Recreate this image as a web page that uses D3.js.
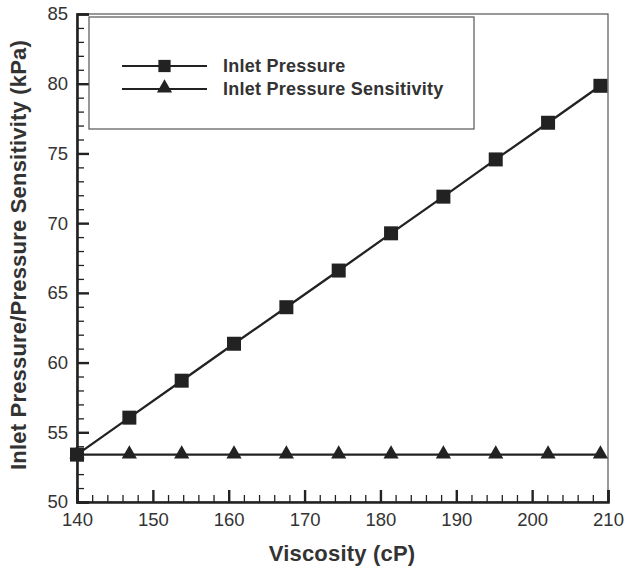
<!DOCTYPE html>
<html><head><meta charset="utf-8">
<script src="https://cdn.jsdelivr.net/npm/d3@7/dist/d3.min.js"></script>
<style>body{margin:0;background:#fff;} svg{display:block;font-family:"Liberation Sans",Arial,sans-serif;}</style>
</head><body>
<svg id="c" width="625" height="570"></svg>
<script>
const viscosity = [140, 146.9, 153.8, 160.7, 167.6, 174.5, 181.4, 188.3, 195.2, 202.1, 209];
const inletPressure = [53.4, 56.05, 58.7, 61.35, 63.97, 66.6, 69.27, 71.9, 74.57, 77.2, 79.85];
const sensitivity = [53.4, 53.4, 53.4, 53.4, 53.4, 53.4, 53.4, 53.4, 53.4, 53.4, 53.4];
const xTicks = [140, 150, 160, 170, 180, 190, 200, 210];
const yTicks = [50, 55, 60, 65, 70, 75, 80, 85];
const seriesNames = ["Inlet Pressure", "Inlet Pressure Sensitivity"];

const L = 77, R = 608, T = 14, B = 502;
const svg = d3.select("#c");
const x = d3.scaleLinear().domain([140, 210]).range([L, R]);
const y = d3.scaleLinear().domain([50, 85]).range([B, T]);
const dark = "#222";
const FF = "Liberation Sans, Arial, sans-serif";

// frame top/right
svg.append("rect").attr("x", L).attr("y", T).attr("width", R - L).attr("height", B - T)
  .attr("fill", "none").attr("stroke", "#555").attr("stroke-width", 1.2);

// minor ticks
const xMinor = d3.range(140, 210.01, 2).filter(v => v % 10 !== 0);
const yMinor = d3.range(50, 85.01, 1).filter(v => v % 5 !== 0);
const gx = svg.append("g").attr("transform", `translate(0,${B})`);
gx.call(d3.axisBottom(x).tickValues(xMinor).tickSize(-7).tickFormat(""));
gx.call(g => g.selectAll("line").attr("stroke", dark).attr("stroke-width", 1.3));
gx.select(".domain").remove();
const gx2 = svg.append("g").attr("transform", `translate(0,${B})`);
gx2.call(d3.axisBottom(x).tickValues(xTicks).tickSize(-12).tickPadding(11).tickFormat(d3.format("d")));
gx2.select(".domain").attr("stroke", dark).attr("stroke-width", 2.6);
gx2.selectAll("line").attr("stroke", dark).attr("stroke-width", 2.4);
gx2.selectAll("text").attr("font-size", 18.5).attr("fill", "#333").attr("font-family", FF);

const gy = svg.append("g").attr("transform", `translate(${L},0)`);
gy.call(d3.axisLeft(y).tickValues(yMinor).tickSize(-7).tickFormat(""));
gy.call(g => g.selectAll("line").attr("stroke", dark).attr("stroke-width", 1.3));
gy.select(".domain").remove();
const gy2 = svg.append("g").attr("transform", `translate(${L},0)`);
gy2.call(d3.axisLeft(y).tickValues(yTicks).tickSize(-12).tickPadding(9).tickFormat(d3.format("d")));
gy2.select(".domain").attr("stroke", dark).attr("stroke-width", 2.6);
gy2.selectAll("line").attr("stroke", dark).attr("stroke-width", 2.4);
gy2.selectAll("text").attr("font-size", 18.5).attr("fill", "#333").attr("font-family", FF);

// lines
const line = d3.line().x((d, i) => x(viscosity[i])).y(d => y(d));
[inletPressure, sensitivity].forEach(s => {
  svg.append("path").attr("d", line(s)).attr("fill", "none").attr("stroke", dark).attr("stroke-width", 2.3);
});
const sq = d3.symbol().type(d3.symbolSquare).size(196);
const tri = d3.symbol().type(d3.symbolTriangle).size(100);
svg.selectAll(".sq").data(inletPressure).enter().append("path")
  .attr("d", sq).attr("transform", (d, i) => `translate(${x(viscosity[i])},${y(d)})`).attr("fill", dark);
svg.selectAll(".tr").data(sensitivity).enter().append("path")
  .attr("d", tri).attr("transform", (d, i) => `translate(${x(viscosity[i])},${y(d) - 0.5})`).attr("fill", dark);

// legend
svg.append("rect").attr("x", 89).attr("y", 17).attr("width", 385).attr("height", 112)
  .attr("fill", "#fff").attr("stroke", "#555").attr("stroke-width", 1.2);
const legY = [66, 89];
const sqL = d3.symbol().type(d3.symbolSquare).size(150);
[sqL, tri].forEach((sym, i) => {
  svg.append("line").attr("x1", 122).attr("x2", 207).attr("y1", legY[i]).attr("y2", legY[i])
    .attr("stroke", dark).attr("stroke-width", 2.2);
  svg.append("path").attr("d", sym).attr("fill", dark)
    .attr("transform", `translate(164.5,${legY[i] - (i ? 1 : 0)})`);
  svg.append("text").attr("x", 223).attr("y", legY[i] + 6).text(seriesNames[i])
    .attr("font-size", 18).attr("font-weight", "bold").attr("fill", "#333")
    .attr("letter-spacing", 0.25);
});

// axis titles
svg.append("text").attr("x", 342).attr("y", 561).attr("text-anchor", "middle")
  .attr("font-size", 22).attr("font-weight", "bold").attr("fill", "#333")
  .attr("letter-spacing", 0.2).text("Viscosity (cP)");
svg.append("text").attr("transform", "translate(26,255) rotate(-90)").attr("text-anchor", "middle")
  .attr("font-size", 22).attr("font-weight", "bold").attr("fill", "#333")
  .attr("letter-spacing", 0.2)
  .text("Inlet Pressure/Pressure Sensitivity (kPa)");
</script>
</body></html>
